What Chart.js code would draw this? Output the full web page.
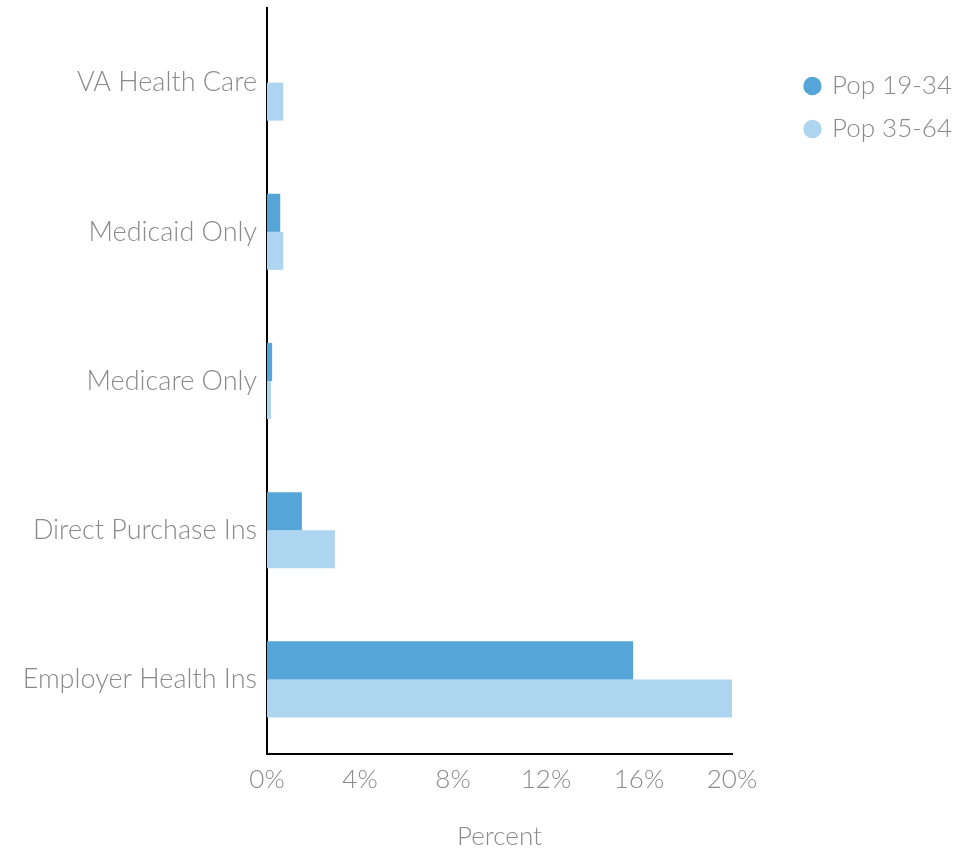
<!DOCTYPE html>
<html lang="en">
<head>
  <meta charset="UTF-8">
  <script src="https://cdn.jsdelivr.net/npm/chart.js"></script>
  <title>Coverage by age</title>
  <style>
    body {
      margin: 0;
      background: #ffffff;
    }

    #wrap {
      width: 974px;
      height: 850px;
    }
  </style>
</head>
<body>
  <div id="wrap">
    <canvas id="barChart" width="974" height="850"></canvas>
  </div>

  <script>
    // values, percent
    const categories = ['VA Health Care', 'Medicaid Only', 'Medicare Only', 'Direct Purchase Ins', 'Employer Health Ins'];
    const pop1934 = [0, 0.57, 0.22, 1.5, 15.75];
    const pop3564 = [0.7, 0.7, 0.17, 2.92, 20];
    const xTicks = [0, 4, 8, 12, 16, 20];

    const grey = '#8a8a8a';
    Chart.defaults.font.family = 'Lato, "Open Sans", sans-serif';
    Chart.defaults.font.size = 26;
    Chart.defaults.font.weight = 300;
    Chart.defaults.color = grey;

    // push the legend over to the right edge, the plot keeps its own width
    const legendNudge = {
      id: 'legendNudge',
      afterLayout(chart) {
        const lg = chart.legend;
        const dx = chart.width - 12 - lg.right;
        lg.left += dx;
        lg.right += dx;
      }
    };

    new Chart(document.getElementById('barChart'), {
      type: 'bar',
      data: {
        labels: categories,
        datasets: [
          {
            label: 'Pop 19-34',
            data: pop1934,
            backgroundColor: '#56a5d8',
            categoryPercentage: 0.51,
            barPercentage: 1
          },
          {
            label: 'Pop 35-64',
            data: pop3564,
            backgroundColor: '#aed5f0',
            categoryPercentage: 0.51,
            barPercentage: 1
          }
        ]
      },
      options: {
        indexAxis: 'y',
        responsive: false,
        animation: false,
        layout: {
          padding: { top: 8, left: 0, right: 12, bottom: 0 }
        },
        plugins: {
          tooltip: { enabled: false },
          legend: {
            position: 'right',
            align: 'start',
            title: {
              display: true,
              text: ' ',
              font: { size: 10, lineHeight: 1 },
              padding: { top: 38, bottom: 0 }
            },
            labels: {
              usePointStyle: true,
              pointStyle: 'circle',
              boxWidth: 13,
              boxHeight: 13,
              padding: 17,
              color: grey,
              font: { size: 26, weight: 300 }
            }
          }
        },
        scales: {
          x: {
            min: 0,
            max: 20,
            afterBuildTicks: (axis) => {
              axis.ticks = xTicks.map(v => ({ value: v }));
            },
            afterFit: (axis) => {
              axis.height = 96;
              axis.paddingRight = 242;
            },
            grid: { display: false, drawTicks: false },
            border: { display: true, color: '#000000', width: 2 },
            ticks: {
              padding: 10,
              callback: (v) => v + '%'
            },
            title: {
              display: true,
              text: 'Percent',
              font: { size: 26, lineHeight: 1 },
              padding: { top: 0, bottom: 0 }
            }
          },
          y: {
            afterFit: (axis) => {
              axis.width = 267;
              axis.paddingTop = 0;
              axis.paddingBottom = 0;
            },
            grid: { display: false, drawTicks: false },
            border: { display: true, color: '#000000', width: 2 },
            ticks: { padding: 10, font: { size: 27 } }
          }
        }
      },
      plugins: [legendNudge]
    });
  </script>
</body>
</html>
